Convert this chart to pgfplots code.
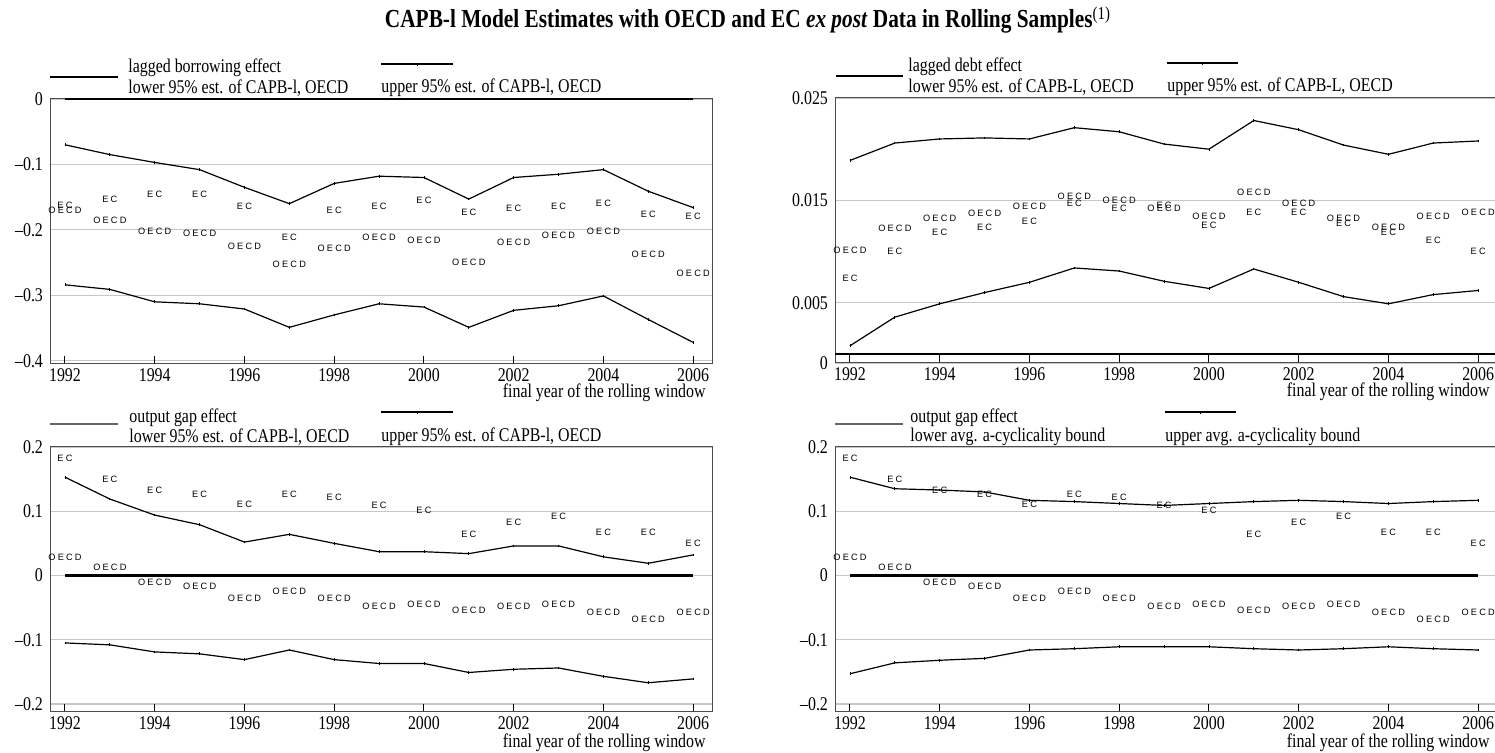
\documentclass[border=0pt]{standalone}
\usepackage{fontspec}
\setmainfont{Liberation Serif}[FakeStretch=0.82]
\newfontfamily\ecf{Liberation Sans}
\usepackage{pgfplots}
\pgfplotsset{compat=1.18}

\newcommand\ecm{{\ecf\fontsize{4.6}{5}\selectfont E\hspace{1.1pt}C}}
\newcommand\oecdm{{\ecf\fontsize{4.6}{5}\selectfont O\hspace{1.1pt}E\hspace{1.1pt}C\hspace{1.1pt}D}}

\pgfplotsset{
 panel/.style={
  scale only axis, anchor=south west, width=331pt, height=132.5pt,
  xmin=1991.666, xmax=2006.42,
  xtick={1992,1994,...,2006},
  xticklabels={1992,1994,1996,1998,2000,2002,2004,2006},
  xtick pos=left, ytick pos=left, xtick align=inside,
  major tick length=4pt,
  xtick style={black, line width=0.5pt},
  ytick style={draw=none},
  scaled y ticks=false,
  ymajorgrids, major grid style={black!22, line width=0.6pt},
  axis line style={black!70, line width=0.5pt},
  tick label style={font=\fontsize{9.7}{11}\selectfont},
  xticklabel style={yshift=1pt},
  clip=false,
 },
 bound/.style={black, line width=0.6pt, mark=|, mark size=0.7pt, mark options={solid, line width=0.4pt}},
 zero/.style={black, line width=1.3pt, no marks},
 ecp/.style={only marks, mark=text, text mark={\ecm}},
 oecdp/.style={only marks, mark=text, text mark={\oecdm}},
}

\begin{document}
\begin{tikzpicture}
\path[use as bounding box] (0,0) rectangle (747.5pt,376.5pt);

% ---------------- top left
\begin{axis}[panel, at={(25pt,194.5pt)},
  ymin=-0.405, ymax=0,
  ytick={-0.4,-0.3,-0.2,-0.1,0},
  yticklabels={--0.4,--0.3,--0.2,--0.1,0}]
\addplot[zero] coordinates {(1992,0)(2006,0)};
\addplot[bound] coordinates {(1992,-0.070)(1993,-0.085)(1994,-0.097)(1995,-0.108)(1996,-0.135)(1997,-0.160)(1998,-0.129)(1999,-0.118)(2000,-0.120)(2001,-0.153)(2002,-0.120)(2003,-0.115)(2004,-0.108)(2005,-0.141)(2006,-0.166)};
\addplot[bound] coordinates {(1992,-0.284)(1993,-0.291)(1994,-0.310)(1995,-0.313)(1996,-0.321)(1997,-0.349)(1998,-0.330)(1999,-0.313)(2000,-0.318)(2001,-0.349)(2002,-0.323)(2003,-0.316)(2004,-0.301)(2005,-0.337)(2006,-0.372)};
\addplot[ecp] coordinates {(1992,-0.163)(1993,-0.153)(1994,-0.146)(1995,-0.146)(1996,-0.164)(1997,-0.212)(1998,-0.170)(1999,-0.164)(2000,-0.155)(2001,-0.173)(2002,-0.167)(2003,-0.164)(2004,-0.159)(2005,-0.176)(2006,-0.179)};
\addplot[oecdp] coordinates {(1992,-0.170)(1993,-0.186)(1994,-0.202)(1995,-0.206)(1996,-0.225)(1997,-0.253)(1998,-0.228)(1999,-0.212)(2000,-0.216)(2001,-0.249)(2002,-0.219)(2003,-0.209)(2004,-0.202)(2005,-0.238)(2006,-0.267)};
\end{axis}

% ---------------- top right
\begin{axis}[panel, at={(417.5pt,195pt)},
  ymin=-0.00088, ymax=0.025,
  ytick={-0.00088,0.005,0.015,0.025},
  yticklabels={0,0.005,0.015,0.025}]
\addplot[zero] coordinates {(1991.666,0)(2006.42,0)};
\addplot[bound] coordinates {(1992,0.0189)(1993,0.0206)(1994,0.0210)(1995,0.0211)(1996,0.0210)(1997,0.0221)(1998,0.0217)(1999,0.0205)(2000,0.0200)(2001,0.0228)(2002,0.0219)(2003,0.0204)(2004,0.0195)(2005,0.0206)(2006,0.0208)};
\addplot[bound] coordinates {(1992,0.0008)(1993,0.0036)(1994,0.0049)(1995,0.0060)(1996,0.0070)(1997,0.0084)(1998,0.0081)(1999,0.0071)(2000,0.0064)(2001,0.0083)(2002,0.0070)(2003,0.0056)(2004,0.0049)(2005,0.0058)(2006,0.0062)};
\addplot[oecdp] coordinates {(1992,0.0101)(1993,0.0123)(1994,0.0132)(1995,0.0137)(1996,0.0144)(1997,0.0154)(1998,0.0150)(1999,0.0142)(2000,0.0134)(2001,0.0158)(2002,0.0147)(2003,0.0132)(2004,0.0124)(2005,0.0134)(2006,0.0138)};
\addplot[ecp] coordinates {(1992,0.0074)(1993,0.0100)(1994,0.0119)(1995,0.0124)(1996,0.0130)(1997,0.0147)(1998,0.0142)(1999,0.0145)(2000,0.0126)(2001,0.0138)(2002,0.0138)(2003,0.0128)(2004,0.0119)(2005,0.0111)(2006,0.0100)};
\end{axis}

% ---------------- bottom left
\begin{axis}[panel, at={(25pt,20.5pt)},
  ymin=-0.2125, ymax=0.2,
  ytick={-0.2,-0.1,0,0.1,0.2},
  yticklabels={--0.2,--0.1,0,0.1,0.2}]
\addplot[zero] coordinates {(1992,0)(2006,0)};
\addplot[bound] coordinates {(1992,0.153)(1993,0.119)(1994,0.094)(1995,0.079)(1996,0.052)(1997,0.064)(1998,0.050)(1999,0.037)(2000,0.037)(2001,0.034)(2002,0.046)(2003,0.046)(2004,0.029)(2005,0.019)(2006,0.032)};
\addplot[bound] coordinates {(1992,-0.105)(1993,-0.108)(1994,-0.119)(1995,-0.122)(1996,-0.131)(1997,-0.116)(1998,-0.131)(1999,-0.137)(2000,-0.137)(2001,-0.151)(2002,-0.146)(2003,-0.144)(2004,-0.157)(2005,-0.167)(2006,-0.161)};
\addplot[ecp] coordinates {(1992,0.182)(1993,0.150)(1994,0.133)(1995,0.127)(1996,0.111)(1997,0.127)(1998,0.122)(1999,0.109)(2000,0.101)(2001,0.064)(2002,0.083)(2003,0.092)(2004,0.067)(2005,0.067)(2006,0.050)};
\addplot[oecdp] coordinates {(1992,0.029)(1993,0.012)(1994,-0.010)(1995,-0.017)(1996,-0.036)(1997,-0.024)(1998,-0.036)(1999,-0.048)(2000,-0.045)(2001,-0.055)(2002,-0.048)(2003,-0.045)(2004,-0.058)(2005,-0.068)(2006,-0.058)};
\end{axis}

% ---------------- bottom right
\begin{axis}[panel, at={(417.5pt,20.5pt)},
  ymin=-0.2125, ymax=0.2,
  ytick={-0.2,-0.1,0,0.1,0.2},
  yticklabels={--0.2,--0.1,0,0.1,0.2}]
\addplot[zero] coordinates {(1992,0)(2006,0)};
\addplot[bound] coordinates {(1992,0.153)(1993,0.135)(1994,0.133)(1995,0.130)(1996,0.117)(1997,0.115)(1998,0.112)(1999,0.109)(2000,0.112)(2001,0.115)(2002,0.117)(2003,0.115)(2004,0.112)(2005,0.115)(2006,0.117)};
\addplot[bound] coordinates {(1992,-0.153)(1993,-0.136)(1994,-0.132)(1995,-0.129)(1996,-0.116)(1997,-0.114)(1998,-0.111)(1999,-0.111)(2000,-0.111)(2001,-0.114)(2002,-0.116)(2003,-0.114)(2004,-0.111)(2005,-0.114)(2006,-0.116)};
\addplot[ecp] coordinates {(1992,0.182)(1993,0.150)(1994,0.133)(1995,0.127)(1996,0.111)(1997,0.127)(1998,0.122)(1999,0.109)(2000,0.101)(2001,0.064)(2002,0.083)(2003,0.092)(2004,0.067)(2005,0.067)(2006,0.050)};
\addplot[oecdp] coordinates {(1992,0.029)(1993,0.012)(1994,-0.010)(1995,-0.017)(1996,-0.036)(1997,-0.024)(1998,-0.036)(1999,-0.048)(2000,-0.045)(2001,-0.055)(2002,-0.048)(2003,-0.045)(2004,-0.058)(2005,-0.068)(2006,-0.058)};
\end{axis}

% ---------------- texts and legends (pixel grid, y downward)
\begin{scope}[x=0.5pt, y=-0.5pt, yshift=376.5pt, font=\fontsize{9.7}{11}\selectfont]
\node at (748,20) {\fontsize{13}{15}\selectfont\bfseries CAPB-l Model Estimates with OECD and EC \textit{ex post} Data in Rolling Samples\textsuperscript{\mdseries(1)}};
% TL legend
\draw[black, line width=0.6pt] (50,77) -- (118,77);
\draw[black, line width=0.6pt] (381,64) -- (453,64);
\draw[black, line width=0.4pt] (417,64) -- (417,66);
\node[anchor=west, inner sep=0pt] at (128,68) {lagged borrowing effect};
\node[anchor=west, inner sep=0pt] at (128,88) {lower 95\% est. of CAPB-l, OECD};
\node[anchor=west, inner sep=0pt] at (381,88) {upper 95\% est. of CAPB-l, OECD};
\node[anchor=east, inner sep=0pt] at (706,393) {final year of the rolling window};
% TR legend
\draw[black, line width=0.6pt] (836,76) -- (903,76);
\draw[black, line width=0.6pt] (1167,63) -- (1238,63);
\draw[black, line width=0.4pt] (1202,63) -- (1202,65);
\node[anchor=west, inner sep=0pt] at (908,67) {lagged debt effect};
\node[anchor=west, inner sep=0pt] at (908,87) {lower 95\% est. of CAPB-L, OECD};
\node[anchor=west, inner sep=0pt] at (1167,87) {upper 95\% est. of CAPB-L, OECD};
\node[anchor=east, inner sep=0pt] at (1490,392) {final year of the rolling window};
% BL legend
\draw[black!60, line width=1pt] (50,424) -- (118,424);
\draw[black, line width=0.6pt] (381,412) -- (453,412);
\draw[black, line width=0.4pt] (417,412) -- (417,414);
\node[anchor=west, inner sep=0pt] at (129,418) {output gap effect};
\node[anchor=west, inner sep=0pt] at (129,437) {lower 95\% est. of CAPB-l, OECD};
\node[anchor=west, inner sep=0pt] at (381,437) {upper 95\% est. of CAPB-l, OECD};
\node[anchor=east, inner sep=0pt] at (706,743) {final year of the rolling window};
% BR legend
\draw[black!60, line width=1pt] (835,424) -- (903,424);
\draw[black, line width=0.6pt] (1165,412) -- (1236,412);
\draw[black, line width=0.4pt] (1200,412) -- (1200,414);
\node[anchor=west, inner sep=0pt] at (910,418) {output gap effect};
\node[anchor=west, inner sep=0pt] at (910,437) {lower avg. a-cyclicality bound};
\node[anchor=west, inner sep=0pt] at (1165,437) {upper avg. a-cyclicality bound};
\node[anchor=east, inner sep=0pt] at (1490,743) {final year of the rolling window};
\end{scope}
\end{tikzpicture}
\end{document}
